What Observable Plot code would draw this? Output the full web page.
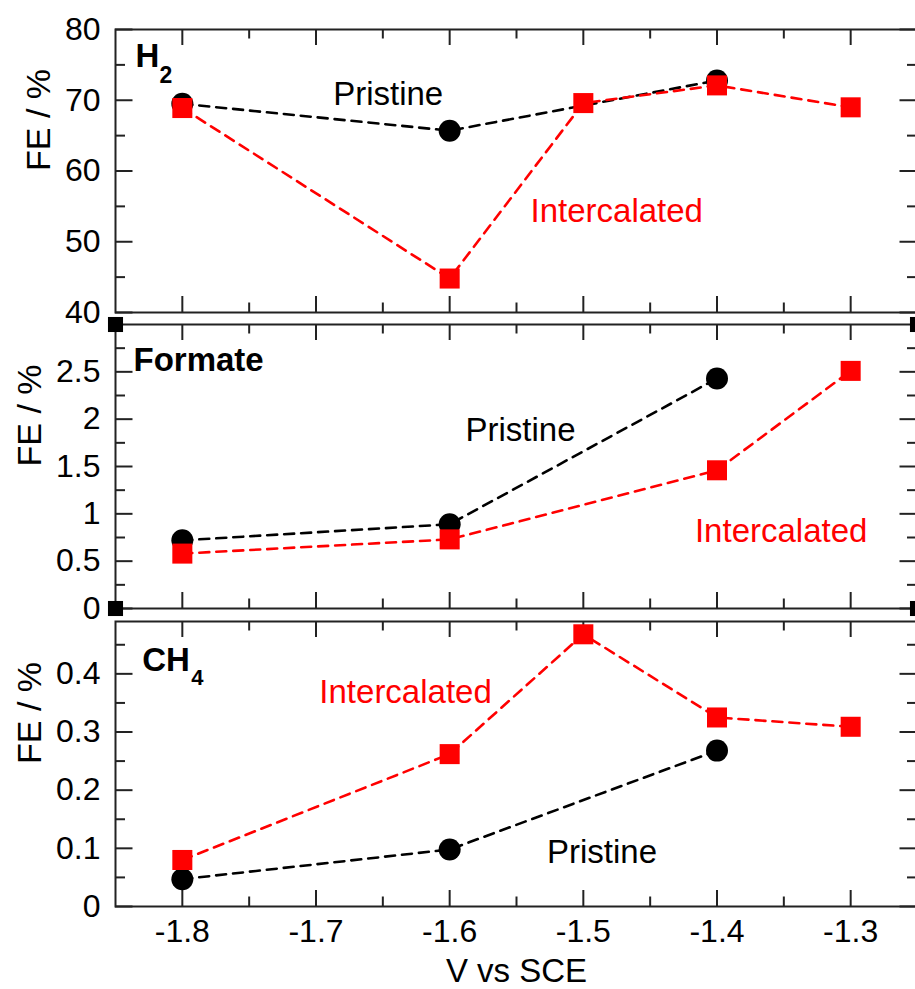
<!DOCTYPE html>
<html><head><meta charset="utf-8">
<script src="https://cdn.jsdelivr.net/npm/d3@7"></script>
<script src="https://cdn.jsdelivr.net/npm/@observablehq/plot@0.6"></script>
<style>
html,body{margin:0;padding:0;background:#fff;overflow:hidden;width:915px;height:989px;}
#chart{position:relative;width:915px;height:989px;font-family:"Liberation Sans",Arial,sans-serif;}
.panel{position:absolute;left:0;}
</style></head><body><div id="chart"></div>
<script>
// ---- data ----
const pristineV = [-1.8, -1.6, -1.4];
const intercalatedV = [-1.8, -1.6, -1.5, -1.4, -1.3];
const formateIntercalatedV = [-1.8, -1.6, -1.4, -1.3];

const h2Pristine = [69.5, 65.7, 72.8];
const h2Intercalated = [68.9, 44.8, 69.6, 72.1, 69.0];
const formatePristine = [0.72, 0.89, 2.43];
const formateIntercalated = [0.58, 0.73, 1.46, 2.51];
const ch4Pristine = [0.047, 0.098, 0.268];
const ch4Intercalated = [0.08, 0.262, 0.468, 0.325, 0.309];

// ---- axes ----
const xDomain = [-1.85, -1.25];
const xMajor = [-1.8, -1.7, -1.6, -1.5, -1.4, -1.3];
const xMinor = [-1.75, -1.65, -1.55, -1.45, -1.35];
const xLabel = "V vs SCE";
const yLabel = "FE / %";

const h2Domain = [40, 80];
const h2Major = [40, 50, 60, 70, 80];
const h2Minor = [45, 55, 65, 75];
const formateDomain = [0, 3];
const formateMajor = [0, 0.5, 1, 1.5, 2, 2.5];
const formateMinor = [0.25, 0.75, 1.25, 1.75, 2.25, 2.75];
const ch4Domain = [0, 0.49];
const ch4Major = [0, 0.1, 0.2, 0.3, 0.4];
const ch4Minor = [0.05, 0.15, 0.25, 0.35, 0.45];

// annotations (data coordinates)
const h2Notes = [{t: "Pristine", x: -1.646, y: 70.8, c: "#000"}, {t: "Intercalated", x: -1.475, y: 54.3, c: "#ff0000"}];
const formateNotes = [{t: "Pristine", x: -1.547, y: 1.88, c: "#000"}, {t: "Intercalated", x: -1.352, y: 0.816, c: "#ff0000"}];
const ch4Notes = [{t: "Intercalated", x: -1.633, y: 0.368, c: "#ff0000"}, {t: "Pristine", x: -1.486, y: 0.093, c: "#000"}];

const FONT = "Liberation Sans, Arial, Helvetica, sans-serif";
const INK = "#222";
const toPts = (xs, ys) => xs.map((x, i) => ({x, y: ys[i]}));

function panel(cfg) {
  const W = 915, ml = 115, mr = -2;
  const fw = W - ml - mr;
  const fh = cfg.height - cfg.mt - cfg.mb;
  const tick = {stroke: INK, strokeWidth: 2};
  const pr = toPts(pristineV, cfg.pristine);
  const it = toPts(cfg.interV, cfg.inter);
  const line = {x: "x", y: "y", curve: "linear", strokeWidth: 2.6, strokeDasharray: "10,7"};
  const marks = [
    Plot.tickX(xMajor, {x: d => d, insetTop: fh - 16, ...tick}),
    Plot.tickX(xMajor, {x: d => d, insetBottom: fh - 16, ...tick}),
    Plot.tickX(xMinor, {x: d => d, insetTop: fh - 9.5, ...tick}),
    Plot.tickX(xMinor, {x: d => d, insetBottom: fh - 9.5, ...tick}),
    Plot.tickY(cfg.major, {y: d => d, insetRight: fw - 17.5, ...tick}),
    Plot.tickY(cfg.major, {y: d => d, insetLeft: fw - 17.5, ...tick}),
    Plot.tickY(cfg.minor, {y: d => d, insetRight: fw - 10, ...tick}),
    Plot.tickY(cfg.minor, {y: d => d, insetLeft: fw - 10, ...tick}),
    Plot.frame({stroke: INK, strokeWidth: 2}),
    Plot.axisY({ticks: cfg.major, tickSize: 0, tickPadding: 15, tickFormat: d3.format("~g"), fontSize: 32, label: null}),
    Plot.text([yLabel], {text: d => d, frameAnchor: "left", dx: cfg.ylabDx, rotate: -90, fontSize: 34, fill: "#000"}),
    Plot.line(pr, {...line, stroke: "#000"}),
    Plot.dot(pr, {x: "x", y: "y", r: 11, fill: "#000", stroke: "none"}),
    Plot.line(it, {...line, stroke: "#ff0000"}),
    Plot.dot(it, {x: "x", y: "y", r: 11.3, symbol: "square", fill: "#ff0000", stroke: "none"}),
    Plot.text(cfg.notes, {x: "x", y: "y", text: "t", fill: "c", fontSize: 33}),
    ...cfg.title
  ];
  if (cfg.corners) {
    for (const [xi, yi] of [[0, 0], [0, 1], [1, 0], [1, 1]]) {
      marks.push(Plot.dot([0], {x: () => xDomain[xi], y: () => cfg.domain[yi], symbol: "square", r: 8.5, fill: "#000", stroke: "none"}));
    }
  }
  if (cfg.xaxis) {
    marks.push(Plot.axisX({ticks: xMajor, tickSize: 0, tickPadding: 13, tickFormat: d => d.toFixed(1), fontSize: 32, label: null}));
    marks.push(Plot.text([xLabel], {text: d => d, frameAnchor: "bottom", dy: 52, lineAnchor: "top", fontSize: 33, fill: "#000"}));
  }
  const svg = Plot.plot({
    width: W, height: cfg.height,
    marginLeft: ml, marginRight: mr, marginTop: cfg.mt, marginBottom: cfg.mb,
    x: {domain: xDomain, axis: cfg.xaxis ? undefined : null},
    y: {domain: cfg.domain, axis: null},
    style: {fontFamily: FONT, fontSize: "32px", background: "transparent", overflow: "visible", color: "#000"},
    marks
  });
  svg.classList.add("panel");
  svg.style.position = "absolute";
  svg.style.top = cfg.top + "px";
  svg.style.left = "0px";
  svg.style.maxWidth = "none";
  document.getElementById("chart").appendChild(svg);
}

const bold = {fontWeight: "bold", fill: "#000", frameAnchor: "top-left", textAnchor: "start", lineAnchor: "top"};

panel({
  top: 0, height: 318, mt: 29, mb: 6, domain: h2Domain, major: h2Major, minor: h2Minor,
  pristine: h2Pristine, interV: intercalatedV, inter: h2Intercalated, notes: h2Notes, ylabDx: -76,
  title: [
    Plot.text(["H"], {text: d => d, ...bold, dx: 20, dy: 14, fontSize: 33}),
    Plot.text(["2"], {text: d => d, ...bold, dx: 44, dy: 37.5, fontSize: 23})
  ]
});
panel({
  top: 318, height: 296, mt: 6, mb: 6, domain: formateDomain, major: formateMajor, minor: formateMinor,
  pristine: formatePristine, interV: formateIntercalatedV, inter: formateIntercalated, notes: formateNotes, ylabDx: -85.5,
  corners: true,
  title: [Plot.text(["Formate"], {text: d => d, ...bold, dx: 18, dy: 22.7, fontSize: 33})]
});
panel({
  top: 614, height: 375, mt: 7, mb: 83, domain: ch4Domain, major: ch4Major, minor: ch4Minor,
  pristine: ch4Pristine, interV: intercalatedV, inter: ch4Intercalated, notes: ch4Notes, ylabDx: -85.5,
  xaxis: true,
  title: [
    Plot.text(["CH"], {text: d => d, ...bold, dx: 26.7, dy: 25.7, fontSize: 33}),
    Plot.text(["4"], {text: d => d, ...bold, dx: 75.7, dy: 48.3, fontSize: 22})
  ]
});
</script></body></html>
